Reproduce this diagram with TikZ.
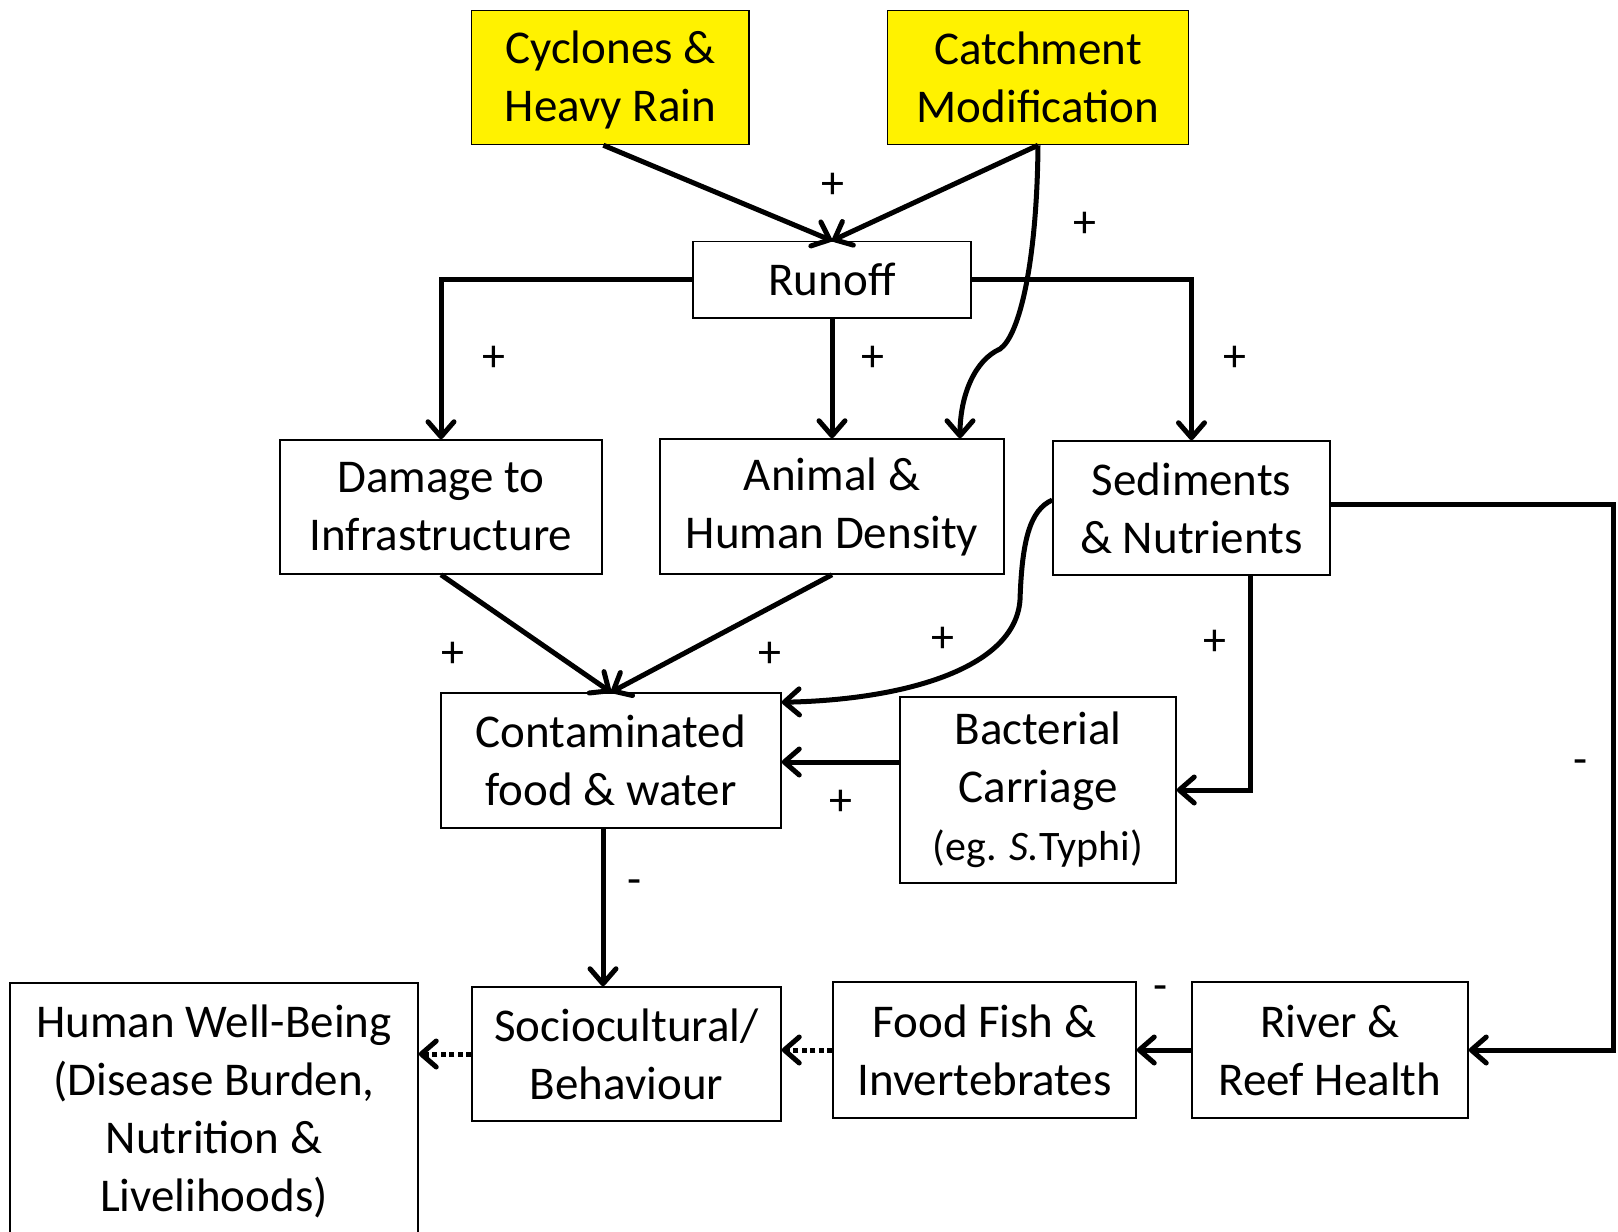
\documentclass[tikz,border=0pt]{standalone}
\usepackage{fontspec}
\setmainfont{Carlito}
\usetikzlibrary{arrows.meta,calc}
\begin{document}
\begin{tikzpicture}[x=1pt,y=-1pt,
 box/.style={draw,line width=1.5pt,align=center,inner sep=0pt,font=\fontsize{47}{58}\selectfont},
 yel/.style={box,fill=yellow},
 conn/.style={line width=5pt,-{Straight Barb[length=15pt,width=26pt,round]}},
 dotconn/.style={conn,dash pattern=on 5pt off 3.5pt},
 sign/.style={font=\fontsize{46}{52}\selectfont,inner sep=0pt}]
\useasboundingbox (0,0) rectangle (1618,1232);
\clip (0,0) rectangle (1618,1232);
% nodes
\node[yel,minimum width=277.6pt,minimum height=134.2pt] (cyc) at (610.4,77.4) {\rule{0pt}{38pt}Cyclones \&\\Heavy Rain};
\node[yel,minimum width=301.3pt,minimum height=134.2pt] (catch) at (1038,77.4) {Catchment\\Modification};
\node[box,minimum width=277.6pt,minimum height=76.3pt] (runoff) at (832,279.6) {Runoff};
\node[box,minimum width=322pt,minimum height=134pt] (damage) at (441,507) {Damage to\\Infrastructure};
\node[box,minimum width=344pt,minimum height=135pt] (animal) at (832,506.5) {Animal \&\\Human Density};
\node[box,minimum width=277pt,minimum height=134pt] (sed) at (1191.5,508) {Sediments\\\& Nutrients};
\node[box,minimum width=340pt,minimum height=135pt] (cont) at (611,760.5) {Contaminated\\food \& water};
\node[box,minimum width=276pt,minimum height=186pt] (bact) at (1038,790) {Bacterial\\Carriage\\{\fontsize{42}{52}\selectfont (eg. \textit{S.}Typhi)}};
\node[box,minimum width=309pt,minimum height=134pt] (soc) at (626.5,1054) {Sociocultural/\\Behaviour};
\node[box,minimum width=303pt,minimum height=136pt] (fish) at (984.5,1050) {Food Fish \&\\Invertebrates};
\node[box,minimum width=276pt,minimum height=136pt] (river) at (1330,1050) {River \&\\Reef Health};
\node[draw,line width=1.5pt,minimum width=408pt,minimum height=340pt,anchor=north] (humanbox) at (214,982) {};
\node[align=center,inner sep=0pt,font=\fontsize{47}{58}\selectfont] (human) at (214,1111) {Human Well-Being\\(Disease Burden,\\Nutrition \&\\Livelihoods)};
% connectors
\draw[conn] ([xshift=-7pt]cyc.south) -- (runoff.north);
\draw[conn] (catch.south) -- (runoff.north);
\draw[conn] (catch.south) .. controls (1037,260) and (1020,335) .. (1000,349) .. controls (975,360) and (960,395) .. ([xshift=128pt]animal.north);
\draw[conn] (runoff.west) -| (damage.north);
\draw[conn] (runoff.south) -- (animal.north);
\draw[conn] (runoff.east) -| (sed.north);
\draw[conn] (damage.south) -- (cont.north);
\draw[conn] (animal.south) -- (cont.north);
\draw[conn] ([yshift=8pt]sed.west) .. controls (1030,510) and (1022,540) .. (1020,600) .. controls (1015,670) and (900,700) .. ([yshift=-10pt]cont.north east);
\draw[conn] ([xshift=58.5pt]sed.south) |- (bact.east);
\draw[conn] ([yshift=28pt]bact.west) -- ([yshift=28pt]bact.west -| cont.east);
\draw[conn] ([yshift=4pt]sed.east) -- ++(283,0) |- (river.east);
\draw[conn] ([xshift=-8pt]cont.south) -- ([xshift=-8pt]cont.south |- soc.north);
\draw[conn] (river.west) -- (fish.east);
\draw[dotconn] (fish.west) -- (fish.west -| soc.east);
\draw[dotconn] (soc.west) -- (soc.west -| humanbox.east);
% signs
\node[sign] (s1) at (833,186) {+};
\node[sign] (s2) at (1085,225) {+};
\node[sign] (s3) at (494,359) {+};
\node[sign] (s4) at (873,359) {+};
\node[sign] (s5) at (1235,359) {+};
\node[sign] (s6) at (453,655) {+};
\node[sign] (s7) at (770,655) {+};
\node[sign] (s8) at (943,640) {+};
\node[sign] (s9) at (1215,643) {+};
\node[sign] (s10) at (841,803) {+};
\node[sign] (s11) at (1581,767) {-};
\node[sign] (s12) at (635,887) {-};
\node[sign] (s13) at (1161,993) {-};
\end{tikzpicture}
\end{document}
